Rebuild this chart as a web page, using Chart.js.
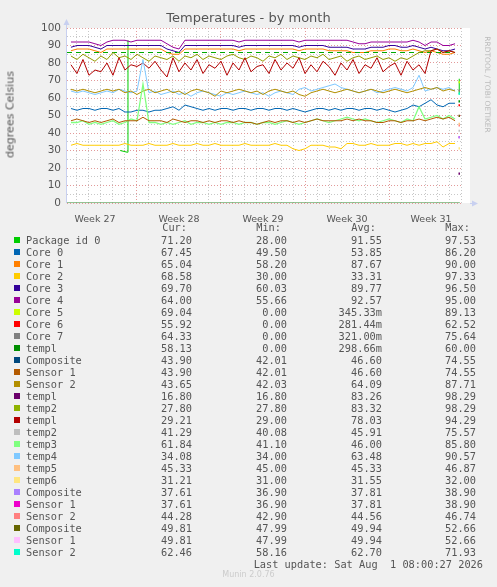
<!DOCTYPE html>
<html><head><meta charset="utf-8">
<script src="https://cdn.jsdelivr.net/npm/chart.js@4/dist/chart.umd.min.js"></script>
<style>
body{margin:0;background:#f0f0f0;width:497px;height:587px;overflow:hidden;font-family:"DejaVu Sans",sans-serif;position:relative}
#wrap{position:absolute;left:0;top:0;width:497px;height:225px}
.t{position:absolute;color:#555;font-weight:normal}
#legend{position:absolute;left:0;top:221px;font-family:"DejaVu Sans Mono",monospace;font-size:10.3px;color:#555}
.row{position:absolute;height:12px;white-space:pre}
.sw{position:absolute;width:6px;height:6px;top:3px;left:14px}
.c{position:absolute;text-align:right;width:80px}
</style></head><body>
<div id="wrap"><canvas id="c" width="497" height="225"></canvas></div>
<div class="t" style="left:0;right:0;top:10px;text-align:center;font-size:13px;color:#555">Temperatures - by month</div>
<div class="t" style="left:-50px;top:108px;width:120px;text-align:center;transform:rotate(-90deg);font-size:11px;color:#555">degrees Celsius</div>
<div class="t" style="left:430px;top:80px;width:115px;text-align:center;transform:rotate(90deg);font-size:7.5px;color:#bbb">RRDTOOL / TOBI OETIKER</div>
<div id="legend"></div>
<div class="t" style="left:0;right:0;top:570px;text-align:center;font-size:8px;color:#ccc">Munin 2.0.76</div>
<script>
const weekLabels=["Week 27","Week 28","Week 29","Week 30","Week 31"];
const weekCenters=[-3.5,3.5,10.5,17.5,24.5];
const tStart=-5.5, tStep=0.5;
const core4=[92,92,92,92,91,90,92,93,93,93,92,93,93,93,93,93,91,89,88,93,93,93,93,93,93,93,93,93,92,93,93,93,93,93,93,93,93,93,92,93,93,93,93,93,93,93,93,92,91,91,92,92,92,92,92,92,92,93,92,90,92,92,90,90,91];
const core3=[89,90,90,90,89,88,90,90,90,90,90,90,90,90,90,90,88,87,86,90,90,90,90,90,90,90,90,90,89,90,90,90,90,90,90,90,90,90,89,90,90,90,90,89,89,89,89,88,88,88,89,89,89,90,90,89,89,90,89,88,89,88,87,87,88];
const core1=[87,88,88,88,87,86,88,88,88,88,88,88,88,88,88,88,86,85,85,88,88,88,88,88,88,88,88,88,87,88,88,88,88,88,88,88,88,88,87,88,88,88,88,87,87,87,87,86,86,86,87,87,87,88,88,87,87,88,87,86,87,86,85,85,86];
const temp2b=[84,82,85,83,81,84,82,86,83,84,82,85,83,81,84,83,82,84,81,84,83,85,82,84,83,82,84,85,83,82,84,83,81,84,83,85,82,84,83,82,84,83,85,82,83,84,81,83,84,82,83,84,82,83,81,83,82,84,86,87,87,88,86,87,86];
const temp1b=[79,74,82,73,76,75,80,73,83,76,79,78,80,77,81,76,72,83,75,80,76,82,74,79,77,81,73,80,76,83,75,78,79,74,82,76,80,77,83,74,79,75,81,78,73,80,76,82,74,79,77,83,75,78,80,73,81,76,79,74,87,88,86,87,86];
const sensor2a=[65,64,65,64,63,64,65,64,65,63,64,62,64,65,63,64,65,63,64,62,64,65,64,63,61,64,63,64,65,64,63,64,62,64,65,64,63,64,62,61,63,64,65,64,63,64,65,64,63,64,65,64,63,64,65,64,63,64,65,66,65,66,64,65,64];
const temp4=[64,63,64,63,62,63,64,63,65,64,63,64,82,63,64,62,63,64,62,63,61,63,64,63,62,61,63,62,63,64,63,62,63,61,63,64,63,62,65,66,64,65,66,67,68,66,65,64,63,64,65,63,64,65,66,65,64,66,73,64,65,66,65,66,64];
const core0=[54,53,54,54,53,54,54,53,54,52,52,53,53,52,53,53,54,55,53,56,55,54,53,54,53,54,54,53,54,54,53,54,54,53,54,54,53,54,53,52,53,54,54,53,54,53,54,54,53,54,54,53,54,53,52,53,54,56,55,57,59,56,55,57,57];
const temp3=[46,46,47,45,46,45,46,47,45,46,48,47,68,46,46,45,46,45,46,47,45,46,46,45,46,45,46,46,45,46,46,45,46,46,45,46,47,46,45,46,47,48,47,46,47,48,49,48,47,48,47,46,47,48,47,46,48,47,55,48,49,50,48,50,48];
const sensor1a=[47,48,47,46,47,46,47,48,46,47,47,47,49,47,47,47,46,48,47,46,47,47,46,47,46,47,47,46,47,46,46,45,46,47,46,47,47,46,47,46,47,48,47,47,47,47,48,47,48,47,47,46,46,47,47,46,47,47,48,47,48,49,48,49,47];
const core2=[33,34,33,33,33,33,33,33,33,34,33,33,33,34,33,33,33,34,33,33,33,34,33,33,34,33,33,33,33,34,33,33,33,33,34,33,33,31,30,31,33,33,33,32,32,31,34,34,33,33,34,33,33,33,34,34,33,34,33,34,34,35,32,34,34];
const packageId0=[[-1.4,30],[-0.8,29],[-0.75,93],[-0.7,null],[26.85,62],[26.85,71]];
const dashedLimit=86;
const lastValues=[["#CCFF00",69.0],["#FF0000",55.9],["#808080",64.3],["#008F00",58.1],["#6B006B",16.8],["#BEBEBE",41.3],["#FFC080",45.3],["#FFE680",31.2],["#AA80FF",37.6],["#EE00CC",37.6],["#FF8080",44.3],["#666600",49.8],["#FFBFFF",49.8],["#00FFCC",62.5]];
const names=["Package id 0","Core 0","Core 1","Core 2","Core 3","Core 4","Core 5","Core 6","Core 7","templ","Composite","Sensor 1","Sensor 2","templ","temp2","templ","temp2","temp3","temp4","temp5","temp6","Composite","Sensor 1","Sensor 2","Composite","Sensor 1","Sensor 2"];
const colors=["#00CC00","#0066B3","#FF8000","#FFCC00","#330099","#990099","#CCFF00","#FF0000","#808080","#008F00","#00487D","#B35A00","#B38F00","#6B006B","#8FB300","#B30000","#BEBEBE","#80FF80","#80C9FF","#FFC080","#FFE680","#AA80FF","#EE00CC","#FF8080","#666600","#FFBFFF","#00FFCC"];
const cur=["71.20","67.45","65.04","68.58","69.70","64.00","69.04","55.92","64.33","58.13","43.90","43.90","43.65","16.80","27.80","29.21","41.29","61.84","34.08","45.33","31.21","37.61","37.61","44.28","49.81","49.81","62.46"];
const mins=["28.00","49.50","58.20","30.00","60.03","55.66","0.00","0.00","0.00","0.00","42.01","42.01","42.03","16.80","27.80","29.00","40.08","41.10","34.00","45.00","31.00","36.90","36.90","42.90","47.99","47.99","58.16"];
const avgs=["91.55","53.85","87.67","33.31","89.77","92.57","345.33m","281.44m","321.00m","298.66m","46.60","46.60","64.09","83.26","83.32","78.03","45.91","46.00","63.48","45.33","31.55","37.81","37.81","44.56","49.94","49.94","62.70"];
const maxs=["97.53","86.20","90.00","97.33","96.50","95.00","89.13","62.52","75.64","60.00","74.55","74.55","87.71","98.29","98.29","94.29","75.57","85.80","90.57","46.87","32.00","38.90","38.90","46.74","52.66","52.66","71.93"];

function pts(arr){return arr.map((v,i)=>({x:tStart+i*tStep,y:v}));}
function line(data,color,extra){return Object.assign({data:data,borderColor:color,borderWidth:1,pointRadius:0,fill:false,tension:0,spanGaps:false},extra||{});}
const ds=[];
ds.push(line([{x:-5.83,y:0},{x:26.9,y:0}],"#6fae6f",{borderWidth:1.5}));
lastValues.forEach(m=>ds.push(line([{x:26.85,y:m[1]-0.6},{x:26.85,y:m[1]+0.6}],m[0],{borderWidth:1.5})));
ds.push(line(pts(core2),"#FFCC00"));
ds.push(line(pts(sensor1a),"#B35A00"));
ds.push(line(pts(temp3),"#80FF80",{borderWidth:1.3}));
ds.push(line(pts(core0),"#0066B3"));
ds.push(line(pts(sensor2a),"#B38F00"));
ds.push(line(pts(temp4),"#80C9FF"));
ds.push(line(pts(temp1b),"#B30000"));
ds.push(line(pts(temp2b),"#949a00"));
ds.push(line([{x:-5.83,y:dashedLimit},{x:26.4,y:dashedLimit}],"#00AA00",{borderDash:[5,4]}));
ds.push(line(pts(core1),"#FF8000"));
ds.push(line(pts(core3),"#330099"));
ds.push(line(pts(core4),"#990099"));
ds.push(line(packageId0.map(p=>({x:p[0],y:p[1]})),"#00CC00"));

const bg={id:'bg',beforeDraw(c){const a=c.chartArea,x=c.ctx;x.save();x.fillStyle='#fff';x.fillRect(a.left,a.top,a.right-a.left+8,a.bottom-a.top);x.restore();},
afterDraw(c){const a=c.chartArea,x=c.ctx;x.save();x.strokeStyle='#c8d0f0';x.fillStyle='#c8d0f0';x.lineWidth=1;
x.beginPath();x.moveTo(a.left-0.5,a.bottom);x.lineTo(a.left-0.5,a.top-6);x.stroke();
x.beginPath();x.moveTo(a.left-3.5,a.top-3);x.lineTo(a.left-0.5,a.top-9);x.lineTo(a.left+2.5,a.top-3);x.fill();
x.beginPath();x.moveTo(a.right+8,a.bottom+0.5);x.lineTo(a.right+12,a.bottom+0.5);x.stroke();
x.beginPath();x.moveTo(a.right+10,a.bottom-2.5);x.lineTo(a.right+16,a.bottom+0.5);x.lineTo(a.right+10,a.bottom+3.5);x.fill();
x.restore();}};

new Chart(document.getElementById('c'),{type:'line',data:{datasets:ds},plugins:[bg],
options:{responsive:false,animation:false,layout:{padding:{left:0,right:35,top:28,bottom:0}},
plugins:{legend:{display:false},tooltip:{enabled:false}},
scales:{
x:{type:'linear',min:-5.83,max:27.08,position:'bottom',afterFit:s=>{s.height=0;},
 ticks:{display:false,stepSize:1},border:{display:false,dash:[1,2]},
 afterBuildTicks:s=>{const t=[];for(let v=-5;v<=27;v++)t.push({value:v});s.ticks=t;},
 grid:{drawTicks:false,color:c=>(Math.round(c.tick.value)%7===0)?'#e29a9a':'#c8c8c8'}},
x2:{type:'linear',min:-5.83,max:27.08,position:'bottom',afterFit:s=>{s.height=22;},
 border:{display:false},grid:{display:false},
 afterBuildTicks:s=>{s.ticks=weekCenters.map(v=>({value:v}));},
 ticks:{autoSkip:false,maxRotation:0,padding:3,color:'#555',font:{family:'DejaVu Sans',size:9.5},callback:(v)=>weekLabels[weekCenters.indexOf(v)]}},
y:{min:0,max:100,afterFit:s=>{s.width=67;},border:{display:false,dash:[1,2]},
 ticks:{stepSize:5,autoSkip:false,padding:6,color:'#555',font:{family:'DejaVu Sans',size:10.5},callback:v=>v%10===0?v:''},
 grid:{drawTicks:false,color:c=>c.tick.value%10===0?'#e29a9a':'#c8c8c8'}}
}}});

const L=document.getElementById('legend');
const hdr=document.createElement('div');hdr.className='row';hdr.style.top='0px';hdr.style.left='0';hdr.style.width='497px';
[["Cur:",107],["Min:",201],["Avg:",296],["Max:",390]].forEach(h=>{const d=document.createElement('div');d.className='c';d.style.left=h[1]+'px';d.textContent=h[0];hdr.appendChild(d);});
L.appendChild(hdr);
names.forEach((n,i)=>{const r=document.createElement('div');r.className='row';r.style.top=(13+i*12)+'px';r.style.width='497px';
 const s=document.createElement('div');s.className='sw';s.style.background=colors[i];r.appendChild(s);
 const nm=document.createElement('div');nm.style.position='absolute';nm.style.left='26px';nm.textContent=n;r.appendChild(nm);
 [[cur[i],112],[mins[i],207],[avgs[i],302],[maxs[i],396]].forEach(v=>{const d=document.createElement('div');d.className='c';d.style.left=v[1]+'px';d.textContent=v[0];r.appendChild(d);});
 L.appendChild(r);});
const lu=document.createElement('div');lu.className='row';lu.style.top=(13+27*12)+'px';lu.style.left='0';lu.style.width='483px';lu.style.textAlign='right';lu.textContent='Last update: Sat Aug  1 08:00:27 2026';L.appendChild(lu);
</script></body></html>
